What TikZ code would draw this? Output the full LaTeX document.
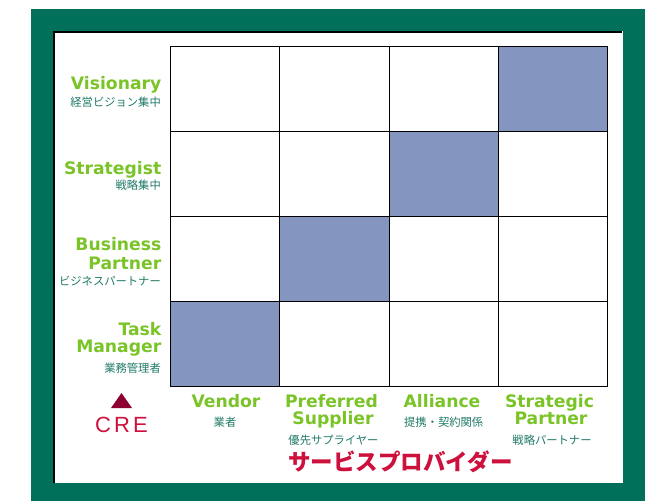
\documentclass[tikz,border=0pt]{standalone}
\usepackage{fontspec}
\setmainfont{DejaVu Sans}
\newfontfamily\jpfont{Noto Sans CJK JP}
\newfontfamily\crefont{Liberation Sans}
\definecolor{framegreen}{RGB}{0,112,90}
\definecolor{lblgreen}{RGB}{122,196,40}
\definecolor{jpteal}{RGB}{34,122,104}
\definecolor{cellfill}{RGB}{132,149,192}
\definecolor{crimson}{RGB}{206,16,60}
\definecolor{darkred}{RGB}{140,0,50}
\tikzset{
  cell/.style={draw=black, line width=1.2pt, minimum width=109.25pt, minimum height=85pt, inner sep=0pt, anchor=north west},
  hot/.style={cell, fill=cellfill},
  enlab/.style={inner sep=0pt, text=lblgreen, font=\fontsize{17.2}{18}\selectfont\bfseries},
  jplab/.style={inner sep=0pt, text=jpteal, font=\fontsize{11.3}{12}\selectfont\jpfont},
  rowlab/.style={anchor=base east},
  collab/.style={anchor=base},
}
\begin{document}
\begin{tikzpicture}[x=1pt,y=-1pt]
\useasboundingbox (0,0) rectangle (656,501);
% frame
\fill[framegreen] (31,9) rectangle (645,501);
\fill[white] (53,31) rectangle (623,483);
\draw[black, line width=2pt] (54.2,483) -- (54.2,32.2) -- (622,32.2);
% grid
\foreach \r in {0,1,2,3}{
  \foreach \c in {0,1,2,3}{
    \pgfmathsetmacro\cx{170+109.25*\c}
    \pgfmathsetmacro\cy{46+85*\r}
    \pgfmathtruncatemacro\diag{3-\r}
    \ifnum\c=\diag
      \node[hot] (c\r\c) at (\cx,\cy) {};
    \else
      \node[cell] (c\r\c) at (\cx,\cy) {};
    \fi
  }
}
% row labels
\node[enlab,rowlab] (vis) at (161.5,89.3) {Visionary};
\node[jplab,rowlab] (visj) at (161,106.3) {経営ビジョン集中};
\node[enlab,rowlab] (str) at (161.5,174) {Strategist};
\node[jplab,rowlab] (strj) at (161,189.6) {戦略集中};
\node[enlab,rowlab] (bus1) at (161.5,250) {Business};
\node[enlab,rowlab] (bus2) at (161.5,269.2) {Partner};
\node[jplab,rowlab] (busj) at (161,285) {ビジネスパートナー};
\node[enlab,rowlab] (task1) at (161.5,335) {Task};
\node[enlab,rowlab] (task2) at (161.5,352.8) {Manager};
\node[jplab,rowlab] (taskj) at (161,372.6) {業務管理者};
% CRE
\coordinate (triL) at (111,408);
\coordinate (triR) at (132,408);
\coordinate (triT) at (121.5,393);
\fill[darkred] (triL) -- (triR) -- (triT) -- cycle;
\node[inner sep=0pt, anchor=base, text=crimson, font=\fontsize{22}{24}\selectfont\crefont] (cre) at (121.5,432) {C\hspace{3.2pt}R\hspace{3.2pt}E};
% column labels
\node[enlab,collab] (ven) at (226,407.3) {Vendor};
\node[jplab,collab] (venj) at (225,426) {業者};
\node[enlab,collab] (pre1) at (331.5,407.3) {Preferred};
\node[enlab,collab] (pre2) at (333,424.7) {Supplier};
\node[jplab,collab] (prej) at (333.5,444.3) {優先サプライヤー};
\node[enlab,collab] (all) at (442,407.3) {Alliance};
\node[jplab,collab] (allj) at (443.7,426) {提携・契約関係};
\node[enlab,collab] (sp1) at (549.5,407.3) {Strategic};
\node[enlab,collab] (sp2) at (551,424.7) {Partner};
\node[jplab,collab] (spj) at (552,444.3) {戦略パートナー};
% provider
\node[inner sep=0pt, anchor=base, text=crimson, font=\fontsize{22.5}{24}\selectfont\jpfont\bfseries] (prov) at (400.5,470.8) {サービスプロバイダー};
\end{tikzpicture}
\end{document}
